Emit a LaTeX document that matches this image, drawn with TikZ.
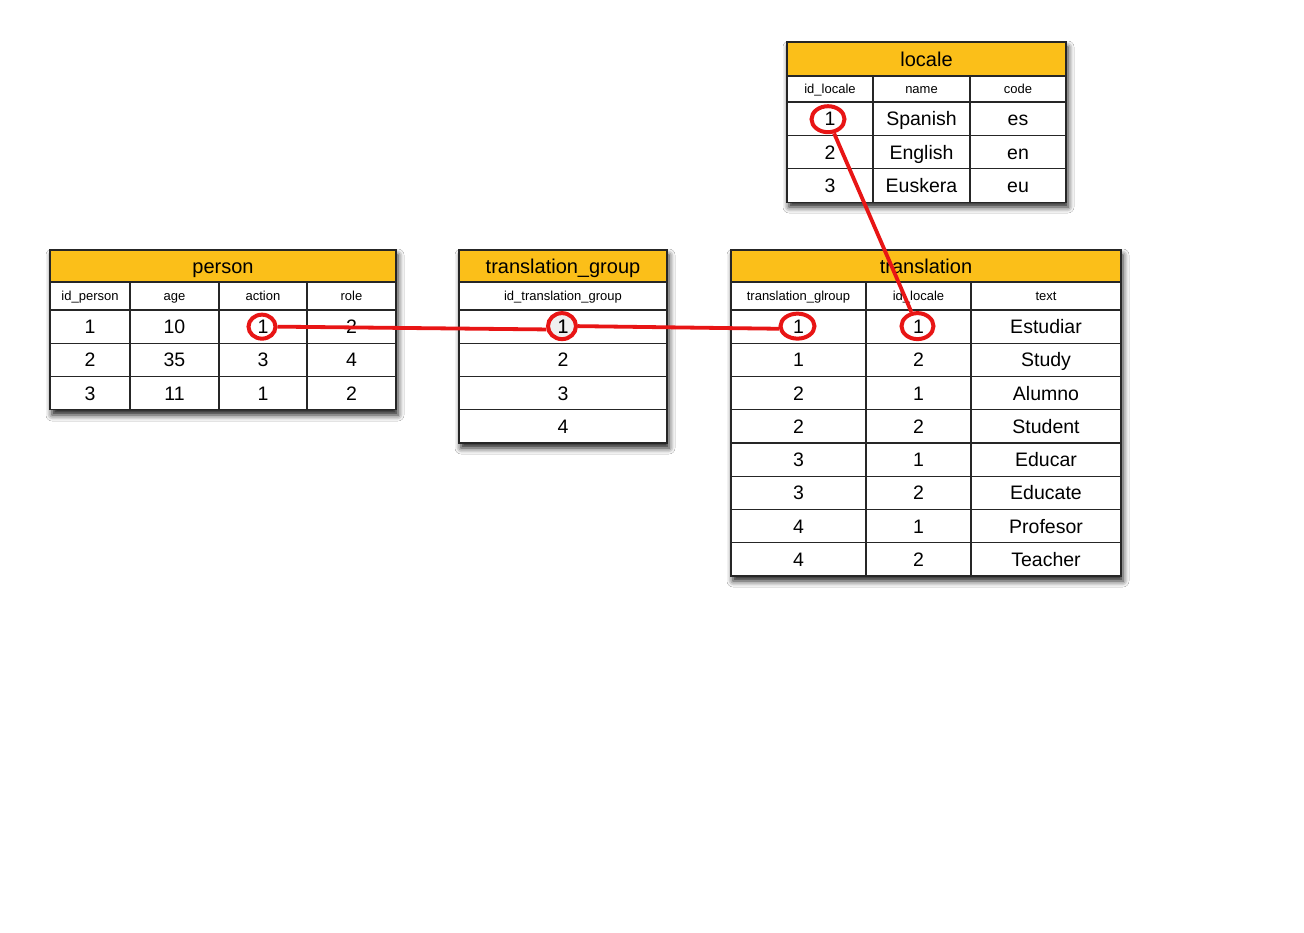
\documentclass[tikz,border=0pt]{standalone}
\usepackage{fontspec}
\setmainfont{Liberation Sans}
\usetikzlibrary{shadows.blur,shapes.geometric}
\definecolor{hdr}{HTML}{FBBF19}
\definecolor{lnk}{HTML}{E81515}
\tikzset{
  cell/.style={draw=black!85, line width=1.1pt, fill=white, inner sep=0pt, anchor=center, font=\fontsize{19.5}{21}\selectfont, text height=17pt, text depth=3pt},
  hcell/.style={cell, fill=hdr, font=\fontsize{20}{22}\selectfont, text height=17.5pt, text depth=3pt},
  ccell/.style={cell, font=\fontsize{13}{15}\selectfont, text height=11pt, text depth=1.6pt},
  tshadow/.style={fill=white, blur shadow={shadow xshift=2pt, shadow yshift=-5pt, shadow blur radius=6pt, shadow opacity=90}},
  ring/.style={ellipse, draw=lnk, line width=4pt, inner sep=0pt},
  link/.style={draw=lnk, line width=3.8pt}
}
% name x1 y1 x2 y2 style text
\newcommand\tcell[7]{\node[#6, minimum width={#4-#2}, minimum height={#5-#3}] (#1) at ({(#2+#4)/2},{(#3+#5)/2}) {#7};}
\begin{document}
\begin{tikzpicture}[x=1pt,y=-1pt]
\useasboundingbox[fill=white] (0,0) rectangle (1304,932);

% ---------- person ----------
\path[tshadow] (50,250) rectangle (396,410);
\tcell{p-h}{50}{250}{396}{282}{hcell}{person}
\foreach \xa/\xb/\t [count=\j] in {50/130/id\_person,130/219/age,219/307/action,307/396/role}
  {\tcell{p-0-\j}{\xa}{282}{\xb}{310}{ccell}{\t}}
\foreach \a/\b/\c/\d [count=\i] in {1/10/1/2,2/35/3/4,3/11/1/2}{
  \pgfmathsetmacro\ya{310+(\i-1)*33.3}
  \pgfmathsetmacro\yb{310+\i*33.3}
  \foreach \xa/\xb/\v [count=\j] in {50/130/\a,130/219/\b,219/307/\c,307/396/\d}
    {\tcell{p-\i-\j}{\xa}{\ya}{\xb}{\yb}{cell}{\v}}
}

% ---------- translation_group ----------
\path[tshadow] (459,250) rectangle (667,443);
\tcell{g-h}{459}{250}{667}{282}{hcell}{translation\_group}
\tcell{g-0}{459}{282}{667}{310}{ccell}{id\_translation\_group}
\foreach \a [count=\i] in {1,2,3,4}{
  \pgfmathsetmacro\ya{310+(\i-1)*33.25}
  \pgfmathsetmacro\yb{310+\i*33.25}
  \tcell{g-\i}{459}{\ya}{667}{\yb}{cell}{\a}
}

% ---------- translation ----------
\path[tshadow] (731,250) rectangle (1121,576);
\tcell{t-h}{731}{250}{1121}{282}{hcell}{translation}
\foreach \xa/\xb/\t [count=\j] in {731/866/translation\_glroup,866/971/id\_locale,971/1121/text}
  {\tcell{t-0-\j}{\xa}{282}{\xb}{310}{ccell}{\t}}
\foreach \a/\b/\c [count=\i] in {1/1/Estudiar,1/2/Study,2/1/Alumno,2/2/Student,3/1/Educar,3/2/Educate,4/1/Profesor,4/2/Teacher}{
  \pgfmathsetmacro\ya{310+(\i-1)*33.25}
  \pgfmathsetmacro\yb{310+\i*33.25}
  \foreach \xa/\xb/\v [count=\j] in {731/866/\a,866/971/\b,971/1121/\c}
    {\tcell{t-\i-\j}{\xa}{\ya}{\xb}{\yb}{cell}{\v}}
}

% ---------- locale ----------
\path[tshadow] (787,42) rectangle (1066,202);
\tcell{l-h}{787}{42}{1066}{76}{hcell}{locale}
\foreach \xa/\xb/\t [count=\j] in {787/873/id\_locale,873/970/name,970/1066/code}
  {\tcell{l-0-\j}{\xa}{76}{\xb}{102}{ccell}{\t}}
\foreach \a/\b/\c [count=\i] in {1/Spanish/es,2/English/en,3/Euskera/eu}{
  \pgfmathsetmacro\ya{102+(\i-1)*33.4}
  \pgfmathsetmacro\yb{102+\i*33.4}
  \foreach \xa/\xb/\v [count=\j] in {787/873/\a,873/970/\b,970/1066/\c}
    {\tcell{l-\i-\j}{\xa}{\ya}{\xb}{\yb}{cell}{\v}}
}

% ---------- rings and links ----------
\node[ring, minimum width=27, minimum height=24] (k1) at ([xshift=-1pt]p-1-3) {};
\node[ring, minimum width=28, minimum height=26, fill=black!12, fill opacity=0.5] (k2) at ([xshift=-1pt,yshift=0.5pt]g-1) {};
\node[ring, minimum width=34, minimum height=25] (k3) at ([xshift=-1pt,yshift=0.5pt]t-1-1) {};
\node[ring, minimum width=32, minimum height=26] (k4) at ([xshift=-1pt,yshift=0.5pt]t-1-2) {};
\node[ring, minimum width=33, minimum height=26] (k5) at ([xshift=-2pt,yshift=-0.5pt]l-1-1) {};
\node[text height=17pt, text depth=3pt, inner sep=0pt] at (g-1) {\fontsize{19.5}{21}\selectfont 1};

\draw[link] (k1.east) -- (k2.192);
\draw[link] (k2.east) -- (k3.188);
\draw[link] (k5) -- (k4);
\end{tikzpicture}
\end{document}
